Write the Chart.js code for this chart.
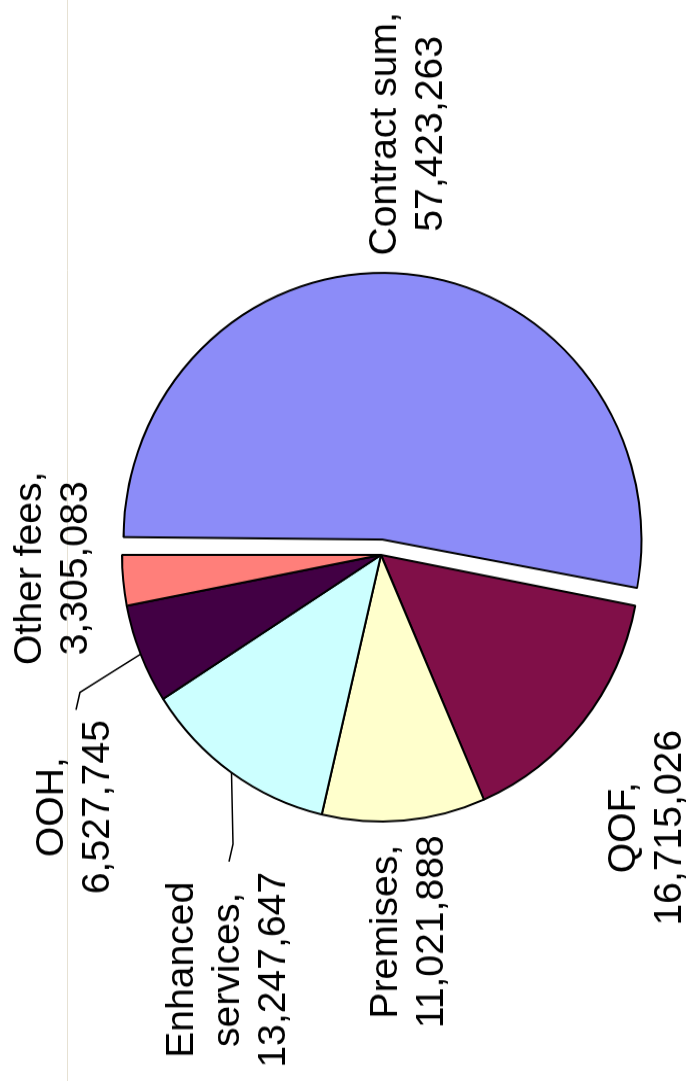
<!DOCTYPE html>
<html>
<head>
<meta charset="utf-8">
<title>Pie</title>
<script src="https://cdn.jsdelivr.net/npm/chart.js@4.4.1/dist/chart.umd.min.js"></script>
<style>
  html, body { margin: 0; padding: 0; background: #fff; overflow: hidden; }
  body { width: 693px; height: 1081px; position: relative; }
  /* chart is drawn landscape, then turned a quarter left like the original
     (the original is also stretched a little along its length) */
  #wrap {
    position: absolute; left: 0; top: 0;
    width: 1050px; height: 693px;
    transform-origin: 0 0;
    transform: translateY(1081px) rotate(-90deg) scaleX(1.0295);
  }
</style>
</head>
<body>
<div id="wrap"><canvas id="pie" width="1050" height="693"></canvas></div>
<script>
// data
const categories = ['Contract sum', 'QOF', 'Premises', 'Enhanced services', 'OOH', 'Other fees'];
const values = [57423263, 16715026, 11021888, 13247647, 6527745, 3305083];
const sliceColors = ['#8c8cf8', '#800f48', '#ffffcc', '#ccffff', '#420044', '#ff7f7a'];
const explode = [60, 0, 0, 0, 0, 0];   // chart.js moves the arc by offset / 4

// label placement, relative to pie centre (unrotated frame)
const labelOffset = [[409, 28], [-265, 267], [-366, 29], [-403, -152], [-245, -305], [-13, -327]];
const hasLeader = [false, false, false, true, true, false];

const RADIUS = 259;
const FONT = '38px "Liberation Sans", Arial, sans-serif';
const LINE_H = 46;
const WRAP = 260;

function labelLines(ctx, i) {
    const lines = [];
    let cur = '';
    (categories[i] + ',').split(' ').forEach(w => {
        const t = cur ? cur + ' ' + w : w;
        if (cur && ctx.measureText(t).width > WRAP) {
            lines.push(cur);
            cur = w;
        } else {
            cur = t;
        }
    });
    lines.push(cur);
    lines.push(values[i].toLocaleString('en-US'));
    return lines;
}

const pieLabels = {
    id: 'pieLabels',
    beforeDraw(chart) {
        // faint frame line of the original sheet
        const ctx = chart.ctx;
        ctx.save();
        ctx.strokeStyle = '#e6e1d3';
        ctx.lineWidth = 1;
        ctx.beginPath();
        ctx.moveTo(0, 67.5);
        ctx.lineTo(chart.width, 67.5);
        ctx.stroke();
        ctx.restore();
    },
    beforeDatasetsDraw(chart) {
        // chart.js grows an exploded arc wider than a half circle by its offset;
        // take that back so every slice keeps the same radius
        chart.getDatasetMeta(0).data.forEach((arc, i) => {
            const fix = 1 - Math.sin(Math.min(Math.PI, arc.circumference || 0));
            arc.outerRadius = RADIUS - (explode[i] / 4) * fix;
        });
    },
    afterDatasetsDraw(chart) {
        const ctx = chart.ctx;
        const arcs = chart.getDatasetMeta(0).data;
        ctx.save();
        ctx.font = FONT;
        ctx.fillStyle = '#000';
        ctx.strokeStyle = '#000';
        ctx.lineWidth = 1.5;
        ctx.textAlign = 'center';
        ctx.textBaseline = 'middle';
        arcs.forEach((arc, i) => {
            const lines = labelLines(ctx, i);
            const cx = arc.x + labelOffset[i][0];
            const cy = arc.y + labelOffset[i][1];
            const top = cy - (lines.length - 1) * LINE_H / 2;
            lines.forEach((t, k) => ctx.fillText(t, cx, top + k * LINE_H));

            if (hasLeader[i]) {
                const mid = (arc.startAngle + arc.endAngle) / 2;
                const sx = arc.x + Math.cos(mid) * arc.outerRadius;
                const sy = arc.y + Math.sin(mid) * arc.outerRadius;
                const halfW = Math.max(...lines.map(t => ctx.measureText(t).width)) / 2;
                const ex = cx + halfW + 10;
                const ey = cy;
                ctx.beginPath();
                ctx.moveTo(ex, ey);
                ctx.lineTo(ex + 17, ey + (sy > ey ? 4 : 0));
                ctx.lineTo(sx, sy);
                ctx.stroke();
            }
        });
        ctx.restore();
    }
};

new Chart(document.getElementById('pie'), {
    type: 'pie',
    data: {
        labels: categories,
        datasets: [{
            data: values,
            backgroundColor: sliceColors,
            borderColor: '#000',
            borderWidth: 2,
            offset: explode,
            radius: RADIUS
        }]
    },
    options: {
        responsive: false,
        animation: false,
        events: [],
        layout: { padding: { left: 0, right: 28, top: 69, bottom: 0 } },
        plugins: {
            legend: { display: false },
            tooltip: { enabled: false },
            title: { display: false }
        }
    },
    plugins: [pieLabels]
});
</script>
</body>
</html>
